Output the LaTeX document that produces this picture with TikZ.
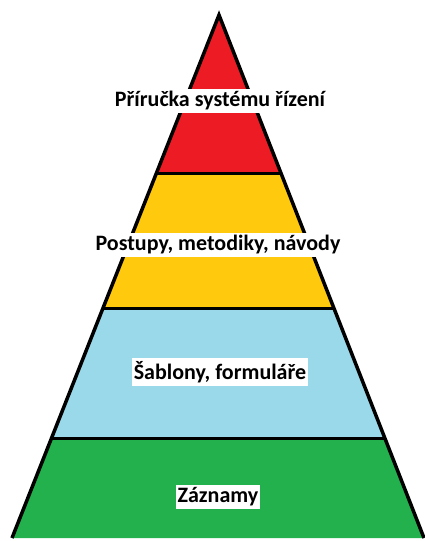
\documentclass[tikz,border=0pt]{standalone}
\usepackage{fontspec}
\setmainfont{Carlito}
\usetikzlibrary{calc}

\definecolor{topred}{HTML}{ED1C24}
\definecolor{gold}{HTML}{FFC90E}
\definecolor{lightblue}{HTML}{99D9EA}
\definecolor{leafgreen}{HTML}{22B14C}

\tikzstyle{level} = [draw=black, line width=3.5pt, line join=round]
\tikzstyle{label} = [rectangle, fill=white, font=\bfseries\fontsize{22}{26}\selectfont,
inner xsep=2pt, inner ysep=3pt]

\begin{document}
\begin{tikzpicture}[x=1pt, y=-1pt]
	\useasboundingbox (0,0) rectangle (425,541);
	%corners of the pyramid
	\coordinate (apex) at (219,15);
	\coordinate (bl) at (12,538);
	\coordinate (br) at (424,538);
	%edges of the levels
	\coordinate (l1) at ($(apex)!0.3028!(bl)$);
	\coordinate (r1) at ($(apex)!0.3028!(br)$);
	\coordinate (l2) at ($(apex)!0.5612!(bl)$);
	\coordinate (r2) at ($(apex)!0.5612!(br)$);
	\coordinate (l3) at ($(apex)!0.8098!(bl)$);
	\coordinate (r3) at ($(apex)!0.8098!(br)$);

	%fills
	\fill[topred] (apex) -- (l1) -- (r1) -- cycle;
	\fill[gold] (l1) -- (l2) -- (r2) -- (r1) -- cycle;
	\fill[lightblue] (l2) -- (l3) -- (r3) -- (r2) -- cycle;
	\fill[leafgreen] (l3) -- (bl) -- (br) -- (r3) -- cycle;

	%outlines
	\draw[level] (l1) -- (r1);
	\draw[level] (l2) -- (r2);
	\draw[level] (l3) -- (r3);
	\draw[level, line join=miter] (bl) -- (apex) -- (br);

	%nodes for the labels
	\node[label](manual) at (220,101){Příručka systému řízení};
	\node[label](procedures) at (218,245){Postupy, metodiky, návody};
	\node[label](templates) at (220,372){Šablony, formuláře};
	\node[label](records) at (218,497){Záznamy};
\end{tikzpicture}
\end{document}
